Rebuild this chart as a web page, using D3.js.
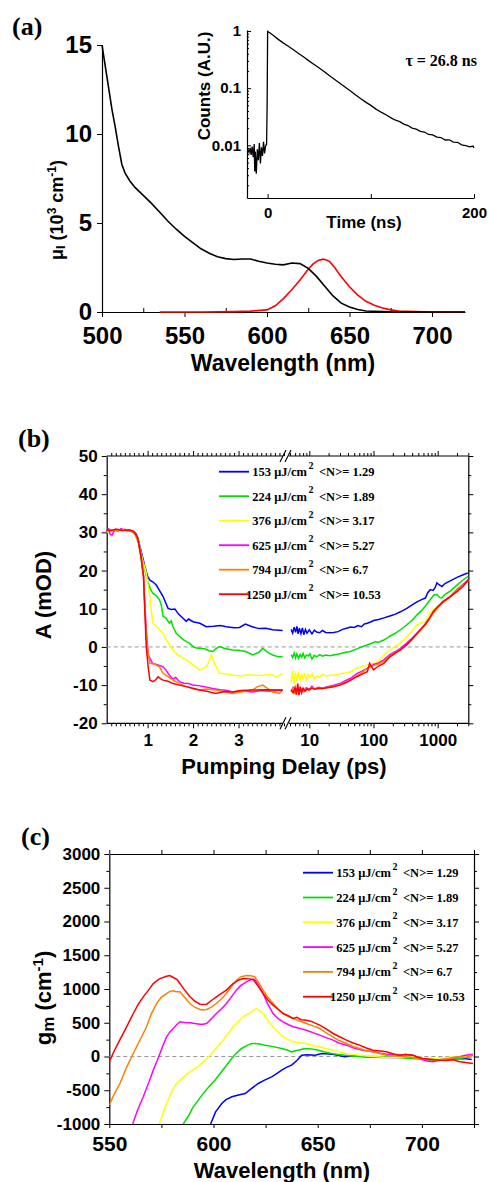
<!DOCTYPE html>
<html>
<head>
<meta charset="utf-8">
<style>
  body { margin: 0; background: #fff; }
  svg { display: block; }
</style>
</head>
<body>
<svg id="fig" width="489" height="1182"></svg>
<script src="https://cdnjs.cloudflare.com/ajax/libs/d3/7.8.5/d3.min.js"></script>
<script>
// ---------- panel (a): absorption + emission ----------
const absorption = [[500,15.0],[502,13.8],[504,12.6],[506,11.4],[508,10.4],[510,9.3],[512,8.3],[514,7.8],[517,7.35],[520,7.0],[525,6.55],[530,6.1],[535,5.6],[540,5.1],[545,4.65],[550,4.25],[555,3.9],[560,3.55],[565,3.3],[570,3.1],[575,3.0],[580,2.95],[585,2.98],[590,2.98],[595,2.85],[600,2.75],[605,2.68],[610,2.65],[615,2.75],[620,2.72],[625,2.45],[630,2.0],[635,1.45],[640,0.9],[645,0.5],[650,0.28],[655,0.14],[660,0.06],[670,0.02],[680,0.0],[700,0.0],[720,0.0]];
const emission = [[535,0],[560,0],[580,0.02],[590,0.05],[600,0.12],[605,0.35],[610,0.75],[615,1.25],[620,1.8],[625,2.4],[628,2.7],[631,2.9],[634,2.97],[636,2.92],[638,2.83],[641,2.5],[644,2.1],[647,1.75],[650,1.42],[655,0.95],[660,0.6],[665,0.38],[670,0.22],[675,0.12],[680,0.06],[690,0.02],[700,0.0],[720,0.0]];
const aXTicks = [500, 550, 600, 650, 700];
const aYTicks = [0, 5, 10, 15];

// inset: PL decay
const decay = [[-19,0.0085],[-18,0.0075],[-17,0.009],[-16,0.0068],[-15,0.0095],[-14,0.0062],[-13,0.0105],[-12.5,0.0035],[-12,0.0078],[-11,0.0032],[-10,0.0085],[-9,0.0055],[-8,0.011],[-7,0.0048],[-6,0.0092],[-5,0.0065],[-4,0.0115],[-3,0.0072],[-2,0.0098],[-1,0.0105],[-0.5,0.05],[0,0.98],[2,0.93],[5,0.85],[10,0.72],[15,0.62],[20,0.54],[25,0.47],[30,0.405],[35,0.35],[40,0.30],[45,0.26],[50,0.225],[55,0.193],[60,0.165],[65,0.142],[70,0.122],[75,0.105],[80,0.09],[85,0.077],[90,0.066],[95,0.057],[100,0.05],[105,0.043],[110,0.038],[115,0.034],[120,0.03],[124,0.0275],[128,0.026],[132,0.0235],[136,0.0222],[140,0.02],[144,0.0192],[148,0.0176],[152,0.0171],[156,0.0155],[160,0.0152],[164,0.0139],[168,0.0137],[172,0.0124],[176,0.0125],[180,0.0114],[184,0.0113],[188,0.0102],[192,0.0099],[196,0.0094],[199,0.0097],[200,0.009]];
const insetYTicks = [1, 0.1, 0.01];
const insetXTicks = [0, 100, 200];

// ---------- shared legend ----------
const fluences = ["153", "224", "376", "625", "794", "1250"];
const nValues = ["1.29", "1.89", "3.17", "5.27", "6.7", "10.53"];
const colors = ["#0000ff", "#00e000", "#ffff00", "#ff00ff", "#ff8000", "#ff0000"];

// ---------- panel (b): kinetics, A (mOD) vs delay ----------
const bBlue = [[0.1,30.2],[0.15,30.8],[0.25,30.5],[0.35,30.6],[0.5,30.4],[0.6,30.5],[0.68,30.3],[0.75,29.5],[0.8,27.8],[0.87,24.5],[0.94,21.0],[1.0,18.5],[1.05,17.5],[1.12,17.0],[1.19,16.2],[1.26,14.8],[1.34,13.2],[1.4,11.5],[1.45,10.1],[1.52,9.8],[1.6,9.9],[1.68,8.6],[1.78,7.5],[1.85,6.7],[1.9,7.3],[2.0,6.6],[2.15,6.2],[2.29,5.3],[2.45,5.4],[2.6,5.6],[2.73,5.3],[2.9,5.0],[3.02,5.1],[3.15,6.0],[3.3,5.3],[3.45,4.8],[3.6,4.9],[3.75,4.5],[3.97,4.3],
  [5.2,4.6],[5.5,3.6],[5.8,5.2],[6.1,3.8],[6.4,5.4],[6.7,3.4],[7.0,4.9],[7.4,3.5],[7.8,5.0],[8.2,3.2],[8.7,4.6],[9.2,3.6],[10,4.5],[11,3.4],[12,4.4],[13,3.9],[14.5,3.7],[16,4.3],[18,3.8],[21,3.7],[24,3.8],[28,4.0],[33,4.6],[38,4.9],[44,5.2],[50,5.1],[57,5.6],[65,5.3],[72,6.0],[80,6.2],[92,6.6],[100,6.9],[120,7.2],[145,7.6],[180,8.1],[220,8.6],[263,9.2],[330,10.1],[400,11.0],[477,11.8],[560,12.4],[643,12.8],[700,14.2],[768,15.0],[850,14.8],[910,15.5],[975,16.8],[1050,16.3],[1165,15.8],[1300,16.6],[1567,17.3],[2000,18.2],[2500,18.9],[3000,19.4]];
const bGreen = [[0.1,30.0],[0.2,30.6],[0.3,30.4],[0.45,30.7],[0.6,30.4],[0.7,30.0],[0.78,28.5],[0.85,25.0],[0.91,22.0],[0.96,19.0],[1.01,16.8],[1.06,15.2],[1.11,14.1],[1.18,13.5],[1.26,12.4],[1.3,11.0],[1.34,8.0],[1.4,7.6],[1.48,6.2],[1.52,6.8],[1.56,5.2],[1.63,3.6],[1.7,2.8],[1.78,2.0],[1.85,1.4],[1.92,1.0],[2.0,0.1],[2.07,-0.3],[2.14,-0.35],[2.25,-0.5],[2.35,-1.0],[2.43,-1.2],[2.5,-0.5],[2.58,0.1],[2.7,-0.4],[2.87,-0.8],[3.0,-0.9],[3.16,-1.2],[3.31,-2.1],[3.45,-1.4],[3.53,-0.35],[3.65,-1.5],[3.75,-2.1],[3.88,-2.6],[3.97,-2.5],
  [5.2,-2.0],[5.5,-2.8],[5.8,-1.6],[6.1,-2.9],[6.4,-1.8],[6.8,-3.0],[7.2,-2.0],[7.6,-2.7],[8.0,-1.7],[8.5,-2.9],[9.0,-2.1],[9.6,-2.4],[10.2,-1.8],[11,-3.2],[12,-2.2],[13,-2.6],[14.5,-2.0],[16,-2.4],[18,-2.1],[21,-2.3],[24,-2.1],[30,-1.8],[37,-1.4],[44,-1.2],[55,-0.5],[65,0.0],[80,0.5],[92,0.9],[108,1.4],[118,1.2],[145,1.8],[180,2.8],[220,3.6],[263,4.5],[330,5.8],[400,7.0],[477,8.4],[560,9.5],[650,10.8],[768,12.4],[870,13.6],[975,13.7],[1080,12.9],[1165,12.8],[1300,13.8],[1567,14.6],[2000,16.2],[2500,17.6],[3000,18.5]];
const bYellow = [[0.1,30.1],[0.2,30.5],[0.35,30.6],[0.5,30.3],[0.65,30.4],[0.72,29.8],[0.8,27.5],[0.88,23.0],[0.93,21.0],[0.97,19.4],[1.01,16.0],[1.05,13.2],[1.08,9.5],[1.12,6.2],[1.18,5.6],[1.26,4.5],[1.34,3.6],[1.41,1.8],[1.5,0.3],[1.56,-0.8],[1.63,-1.7],[1.72,-2.6],[1.85,-3.4],[1.92,-4.0],[2.0,-4.7],[2.07,-5.4],[2.14,-6.1],[2.22,-5.6],[2.29,-5.2],[2.35,-3.8],[2.4,-2.1],[2.48,-4.5],[2.58,-6.9],[2.7,-7.0],[2.87,-7.4],[3.05,-7.6],[3.2,-7.3],[3.31,-7.4],[3.5,-7.5],[3.7,-7.2],[3.85,-7.8],[3.97,-6.9],
  [5.2,-9.5],[5.5,-6.2],[5.8,-9.8],[6.1,-6.8],[6.4,-8.9],[6.8,-6.5],[7.2,-9.0],[7.6,-7.0],[8.0,-8.4],[8.5,-6.8],[9.0,-8.8],[9.6,-7.2],[10.2,-8.0],[11,-7.0],[12,-8.5],[13,-7.6],[14.5,-8.0],[16,-7.2],[18,-7.6],[21,-7.4],[24,-7.4],[30,-7.0],[37,-6.8],[44,-6.5],[55,-5.6],[65,-5.2],[80,-4.7],[92,-4.3],[108,-4.3],[125,-3.5],[145,-2.1],[180,-0.8],[220,0.2],[263,1.0],[330,2.6],[400,4.2],[477,5.8],[560,6.4],[643,6.7],[700,7.8],[768,9.0],[860,9.7],[1000,10.6],[1200,11.8],[1567,13.2],[2000,15.0],[2500,16.5],[3000,17.6]];
const bMagenta = [[0.1,30.2],[0.14,30.8],[0.18,29.4],[0.22,29.3],[0.27,30.6],[0.35,30.4],[0.42,31.0],[0.48,30.6],[0.55,30.5],[0.65,30.3],[0.72,29.8],[0.8,27.5],[0.86,23.5],[0.91,18.5],[0.94,11.0],[0.97,4.5],[1.01,-1.7],[1.05,-3.0],[1.11,-4.3],[1.2,-4.6],[1.34,-5.2],[1.4,-6.0],[1.48,-7.4],[1.55,-8.4],[1.62,-8.0],[1.7,-9.1],[1.8,-9.5],[1.9,-9.6],[2.0,-10.0],[2.15,-10.2],[2.25,-10.4],[2.43,-10.9],[2.6,-11.2],[2.75,-11.4],[2.87,-11.8],[3.05,-11.5],[3.2,-11.7],[3.31,-11.8],[3.5,-11.4],[3.7,-11.6],[3.97,-11.3],
  [5.2,-11.5],[5.6,-10.6],[6.0,-11.9],[6.5,-10.8],[7.0,-11.6],[7.5,-10.9],[8.2,-11.5],[9.0,-10.7],[10,-11.2],[11,-10.3],[12,-11.0],[14,-10.6],[16,-10.9],[19,-10.4],[24,-10.0],[30,-9.6],[37,-8.8],[44,-8.2],[55,-7.0],[65,-6.4],[80,-5.6],[100,-4.6],[120,-4.2],[145,-3.4],[180,-2.0],[220,-1.2],[263,-0.35],[330,1.0],[400,2.3],[477,3.6],[560,4.8],[650,6.2],[750,7.6],[860,9.3],[1000,10.4],[1200,11.8],[1567,13.2],[2000,15.0],[2500,16.4],[3000,17.6]];
const bOrange = [[0.1,30.4],[0.2,30.7],[0.35,30.5],[0.5,30.8],[0.62,30.5],[0.72,29.6],[0.8,27.2],[0.86,23.0],[0.91,18.5],[0.94,10.0],[0.97,2.7],[1.01,-1.5],[1.05,-4.3],[1.12,-4.4],[1.19,-4.7],[1.26,-5.2],[1.34,-6.9],[1.45,-7.8],[1.56,-8.7],[1.7,-9.6],[1.85,-10.4],[2.0,-10.8],[2.14,-11.3],[2.3,-11.0],[2.5,-11.3],[2.7,-11.8],[2.87,-12.2],[3.05,-11.8],[3.2,-11.5],[3.31,-11.3],[3.42,-10.4],[3.53,-10.0],[3.65,-11.0],[3.75,-11.8],[3.9,-12.2],[3.97,-11.3],
  [5.2,-11.8],[5.6,-10.9],[6.0,-12.2],[6.5,-11.2],[7.0,-12.0],[7.5,-11.0],[8.2,-11.7],[9.0,-11.0],[10,-11.4],[11,-10.6],[12,-11.0],[14,-10.8],[16,-10.9],[19,-10.6],[24,-10.3],[30,-9.9],[37,-9.2],[44,-8.6],[55,-7.6],[65,-6.8],[80,-5.6],[100,-4.9],[120,-4.5],[145,-3.8],[180,-2.4],[220,-1.5],[263,-0.8],[330,0.6],[400,2.0],[477,3.4],[560,4.6],[650,6.0],[750,7.4],[860,8.9],[1000,10.2],[1200,11.6],[1567,13.0],[2000,14.8],[2500,16.2],[3000,17.2]];
const bRed = [[0.1,30.6],[0.2,30.4],[0.3,30.9],[0.45,30.5],[0.6,30.7],[0.7,30.2],[0.78,28.6],[0.85,24.0],[0.91,18.5],[0.94,9.0],[0.97,0.1],[1.01,-5.0],[1.05,-8.7],[1.12,-9.1],[1.18,-8.6],[1.23,-7.8],[1.28,-8.3],[1.34,-8.7],[1.45,-9.0],[1.56,-9.6],[1.7,-10.0],[1.85,-10.4],[2.0,-10.9],[2.14,-11.3],[2.3,-11.6],[2.5,-12.2],[2.7,-11.7],[2.87,-11.8],[3.05,-11.4],[3.31,-11.3],[3.6,-11.2],[3.97,-11.3],
  [5.2,-11.3],[5.6,-12.0],[6.0,-10.6],[6.3,-12.5],[6.6,-9.6],[6.9,-12.6],[7.2,-10.4],[7.6,-12.0],[8.0,-10.8],[8.6,-11.6],[9.2,-11.0],[10,-11.2],[11,-10.8],[12,-11.1],[14,-10.8],[16,-10.9],[19,-10.7],[24,-10.4],[30,-10.0],[37,-9.4],[44,-8.7],[55,-7.8],[65,-7.2],[80,-6.5],[87,-4.3],[95,-5.4],[100,-6.0],[120,-5.0],[145,-4.3],[180,-2.6],[220,-1.6],[263,-0.8],[330,0.6],[400,2.0],[477,3.6],[560,4.8],[650,6.0],[750,7.6],[860,9.3],[1000,10.5],[1200,11.8],[1567,13.2],[2000,14.5],[2500,15.9],[3000,17.6]];
const bYTicks = [-20, -10, 0, 10, 20, 30, 40, 50];
const bXTicksLin = [1, 2, 3];
const bXTicksLog = [10, 100, 1000];

// ---------- panel (c): modal gain spectra ----------
const cBlue = [[598.6,-1000],[601,-820],[604,-696],[606,-640],[608.8,-597],[612,-570],[615.2,-548],[618,-480],[621.5,-400],[624.5,-350],[627.9,-301],[630.5,-250],[632.7,-202],[635,-160],[637.5,-128],[640,-60],[642.3,20],[645,25],[648.7,20],[652,45],[656.7,35],[660,15],[663.1,-5],[667,10],[672.7,-5],[678,-10],[685.5,-15],[690,-10],[695.1,-5],[700,-30],[704.7,-54],[710,-40],[717.5,-30],[721,-35],[723.9,-44]];
const cGreen = [[585.5,-1000],[588,-880],[590,-760],[592.7,-647],[595,-550],[597.5,-460],[600.7,-351],[603,-260],[606,-140],[608.7,-30],[611,50],[613.5,119],[616,160],[618,190],[619.9,193],[622,185],[624.7,168],[628,150],[632.7,119],[635,100],[637.5,69],[640,90],[643.9,119],[647,110],[650.3,94],[653,70],[656.7,44],[660,30],[663.1,20],[668,5],[672.7,-5],[677,0],[682.3,-5],[688,-15],[695.1,-30],[700,-40],[704.7,-54],[710,-45],[714,-35],[717.5,-30],[721,-15],[723.9,-5]];
const cYellow = [[574,-1000],[576,-820],[577.5,-696],[580,-520],[582.3,-400],[585,-320],[588.7,-227],[592,-160],[595.1,-79],[597.5,-10],[599.9,69],[602,150],[604.6,242],[607,340],[609.4,440],[612,520],[614.2,588],[617,640],[619,680],[620.6,711],[622,680],[623.8,637],[626,540],[628.6,440],[631,360],[633.4,291],[636,250],[638.2,217],[641,205],[644.6,193],[648,160],[651,143],[654,120],[657.4,94],[660,70],[663.8,44],[667,30],[670.1,20],[675,5],[682.9,-15],[688,-10],[695.7,-5],[700,-20],[705.3,-30],[710,-20],[714,-10],[718,-5],[721,5],[724.5,20]];
const cMagenta = [[561.2,-1000],[563.5,-800],[566.3,-597],[569,-380],[571.1,-202],[573,-60],[574.3,44],[576,180],[577.5,291],[579,360],[580.7,415],[582,460],[583.9,514],[586,505],[588.7,499],[591,490],[593.5,479],[595,478],[596.7,489],[599,560],[601.4,637],[604,710],[606.2,785],[608.5,880],[611,983],[613,1050],[615.8,1106],[618,1140],[619.8,1141],[621.5,1060],[623.8,933],[626,780],[628.6,637],[631,560],[633.4,514],[636,470],[638.2,440],[641,420],[644.6,390],[648,350],[651,316],[654,280],[657.4,242],[660,200],[663.8,168],[667,130],[670.1,104],[673,85],[676.5,69],[680,50],[682.9,35],[686,25],[689.3,20],[692,30],[695.7,20],[698,-10],[700.5,-54],[703,-70],[705.3,-79],[708,-60],[711.7,-44],[715,-20],[718,-5],[721,20],[724.5,35]];
const cOrange = [[550,-721],[552,-580],[555.1,-400],[558,-180],[561.5,44],[564,200],[567.9,440],[570,620],[572.7,785],[575,880],[577.5,933],[579,965],[580.7,973],[582,960],[583.9,958],[586,880],[588.7,785],[591,730],[593.5,696],[595,690],[596.7,696],[599,730],[601.4,785],[604,860],[606.2,933],[608.5,1030],[611,1131],[613,1180],[615.8,1200],[618,1195],[619.8,1180],[622,1080],[623.8,983],[626,880],[628.6,785],[631,700],[633.4,637],[636,590],[638.2,563],[641,530],[644.6,489],[648,450],[651,415],[654,350],[657.4,291],[660,240],[663.8,193],[667,150],[670.1,119],[673,90],[676.5,69],[680,40],[682.9,20],[686,10],[689.3,5],[694,-10],[698.9,-30],[703,-40],[708.5,-54],[713,-30],[718,-5],[721,-10],[724.5,20]];
const cRed = [[550,-79],[552,60],[555,242],[558,420],[561.5,637],[564,780],[566.3,884],[569,990],[571.1,1081],[574,1150],[577.5,1190],[579,1200],[580.7,1170],[582.5,1140],[583.9,1081],[586,990],[588.7,884],[591,820],[593.5,775],[595,770],[596.7,775],[599,830],[601.4,884],[604,940],[606.2,983],[608,1040],[609.4,1081],[612,1130],[614.2,1156],[617,1150],[619,1140],[621,1060],[623.8,933],[626,840],[628.6,760],[631,700],[633.4,637],[636,600],[638.2,563],[640,580],[642,545],[644.6,538],[647,520],[649,490],[651,464],[654,410],[657.4,341],[660,300],[663.8,242],[667,200],[670.1,168],[673,130],[676.5,94],[680,80],[682.9,69],[686,40],[689.3,20],[692,30],[695.7,20],[698,-10],[700.5,-30],[704,-40],[708.5,-54],[712,-60],[715,-50],[718.1,-79],[721,-90],[724.5,-104]];
const cXTicks = [550, 600, 650, 700];
const cYTicks = [-1000, -500, 0, 500, 1000, 1500, 2000, 2500, 3000];

// ---------- drawing ----------
const SANS = '"Liberation Sans", Arial, sans-serif';
const SERIF = '"Liberation Serif", "Times New Roman", serif';
const svg = d3.select("#fig");
svg.append("rect").attr("width", 489).attr("height", 1182).attr("fill", "#fff");

// tidy up a d3 axis group
function styleAxis(g, fontSize, keepDomain) {
  g.attr("font-family", SANS).attr("font-size", fontSize).attr("font-weight", "bold");
  if (keepDomain) g.select(".domain").attr("stroke", "#000").attr("stroke-width", 1.2);
  else g.select(".domain").remove();
  g.selectAll(".tick line").attr("stroke", "#000").attr("stroke-width", 1);
  g.selectAll(".tick text").attr("fill", "#000");
  return g;
}
function hline(x1, x2, y) {
  svg.append("line").attr("x1", x1).attr("x2", x2).attr("y1", y).attr("y2", y)
    .attr("stroke", "#000").attr("stroke-width", 1.2);
}
function vline(x, y1, y2) {
  svg.append("line").attr("x1", x).attr("x2", x).attr("y1", y1).attr("y2", y2)
    .attr("stroke", "#000").attr("stroke-width", 1.2);
}
function panelLabel(txt, x, y) {
  svg.append("text").attr("x", x).attr("y", y).attr("font-family", SERIF)
    .attr("font-weight", "bold").attr("font-size", 26).text(txt);
}
function zeroLine(x1, x2, y) {
  svg.append("line").attr("x1", x1).attr("x2", x2).attr("y1", y).attr("y2", y)
    .attr("stroke", "#999").attr("stroke-width", 1).attr("stroke-dasharray", "4,3");
}
function drawLegend(x0, y0, step) {
  fluences.forEach((f, i) => {
    const y = y0 + i * step;
    svg.append("line").attr("x1", x0).attr("x2", x0 + 30).attr("y1", y).attr("y2", y)
      .attr("stroke", colors[i]).attr("stroke-width", 1.8);
    const t = svg.append("g").attr("font-family", SERIF).attr("font-weight", "bold").attr("fill", "#000");
    t.append("text").attr("x", x0 + 88).attr("y", y + 4.5).attr("text-anchor", "end")
      .attr("font-size", 12.5).text(f + " \u03bcJ/cm");
    t.append("text").attr("x", x0 + 89.5).attr("y", y - 3).attr("font-size", 10).text("2");
    t.append("text").attr("x", x0 + 100).attr("y", y + 4.5).attr("font-size", 12.5)
      .text("<N>= " + nValues[i]);
  });
}

// ===== panel (a) =====
panelLabel("(a)", 12, 35);
const ax = d3.scaleLinear().domain([500, 720]).range([102, 465]);
const ay = d3.scaleLinear().domain([0, 15]).range([312, 45]);

styleAxis(svg.append("g").attr("transform", "translate(0,312)")
  .call(d3.axisBottom(ax).tickValues(aXTicks).tickSize(5).tickPadding(10).tickSizeOuter(0)), 24, true);
styleAxis(svg.append("g").attr("transform", "translate(0,312)")
  .call(d3.axisBottom(ax).tickValues([525, 575, 625, 675]).tickSize(-4).tickFormat("")), 24, false);
styleAxis(svg.append("g").attr("transform", "translate(102,0)")
  .call(d3.axisLeft(ay).tickValues(aYTicks).tickSize(5).tickPadding(5).tickSizeOuter(0)), 24, true);

const aLine = d3.line().x(d => ax(d[0])).y(d => ay(d[1]));
svg.append("path").datum(emission).attr("d", aLine).attr("fill", "none")
  .attr("stroke", "#ff0000").attr("stroke-width", 1.6);
svg.append("path").datum(absorption).attr("d", aLine).attr("fill", "none")
  .attr("stroke", "#000").attr("stroke-width", 1.6);

svg.append("text").attr("x", 283).attr("y", 371).attr("text-anchor", "middle")
  .attr("font-family", SANS).attr("font-weight", "bold").attr("font-size", 23).text("Wavelength (nm)");
const aYT = svg.append("text").attr("transform", "translate(63,210) rotate(-90)")
  .attr("text-anchor", "middle").attr("font-family", SANS).attr("font-weight", "bold").attr("font-size", 18);
aYT.append("tspan").text("\u03bc");
aYT.append("tspan").attr("font-size", 13).attr("dy", 2).text("I");
aYT.append("tspan").attr("dy", -2).text(" (10");
aYT.append("tspan").attr("font-size", 12).attr("dy", -7).text("3");
aYT.append("tspan").attr("dy", 7).text(" cm");
aYT.append("tspan").attr("font-size", 12).attr("dy", -7).text("-1");
aYT.append("tspan").attr("dy", 7).text(")");

// inset
const ix = d3.scaleLinear().domain([-20, 200]).range([247, 474]);
const iy = d3.scaleLog().domain([0.0012, 1.04]).range([198, 30]);
const insetMinor = [];
[0.001, 0.01, 0.1].forEach(dec => { for (let k = 2; k <= 9; k++) if (dec * k >= 0.0012) insetMinor.push(dec * k); });

styleAxis(svg.append("g").attr("transform", "translate(0,198)")
  .call(d3.axisBottom(ix).tickValues(insetXTicks).tickSize(-4).tickPadding(9).tickSizeOuter(0)
    .tickFormat(d => d === 100 ? "" : d)), 15, true);
styleAxis(svg.append("g").attr("transform", "translate(247,0)")
  .call(d3.axisLeft(iy).tickValues(insetYTicks).tickSize(-4).tickPadding(6).tickSizeOuter(0)
    .tickFormat(d => d === 1 ? "1" : d === 0.1 ? "0.1" : "0.01")), 15, true);
styleAxis(svg.append("g").attr("transform", "translate(247,0)")
  .call(d3.axisLeft(iy).tickValues(insetMinor).tickSize(-2).tickFormat("")), 15, false);

svg.append("path").datum(decay)
  .attr("d", d3.line().x(d => ix(d[0])).y(d => iy(d[1])))
  .attr("fill", "none").attr("stroke", "#000").attr("stroke-width", 1.3);

svg.append("text").attr("x", 364).attr("y", 228).attr("text-anchor", "middle")
  .attr("font-family", SANS).attr("font-weight", "bold").attr("font-size", 17).text("Time (ns)");
svg.append("text").attr("transform", "translate(210,86) rotate(-90)").attr("text-anchor", "middle")
  .attr("font-family", SANS).attr("font-weight", "bold").attr("font-size", 17).text("Counts (A.U.)");
svg.append("text").attr("x", 477).attr("y", 66).attr("text-anchor", "end")
  .attr("font-family", SERIF).attr("font-weight", "bold").attr("font-size", 16).text("\u03c4 = 26.8 ns");

// ===== panel (b) =====
panelLabel("(b)", 18, 447);
const bL = 106.7, bR = 468.3, bT = 456, bB = 723.3;
const bxL = d3.scaleLinear().domain([0.1, 4.0]).range([bL, 284]);
const bxR = d3.scaleLog().domain([5, 3000]).range([290, bR]);
const by = d3.scaleLinear().domain([-20, 50]).range([bB, bT]);

const linMinor = d3.range(2, 41).map(k => k / 10).filter(v => bXTicksLin.indexOf(v) < 0);
const logMinor = [];
[1, 10, 100, 1000].forEach(dec => { for (let k = 2; k <= 9; k++) { const v = dec * k; if (v >= 5 && v <= 3000) logMinor.push(v); } });

[[bB, d3.axisBottom], [bT, d3.axisTop]].forEach(([yy, mk], j) => {
  const lab = j === 0;
  styleAxis(svg.append("g").attr("transform", `translate(0,${yy})`)
    .call(mk(bxL).tickValues(bXTicksLin).tickSize(5).tickPadding(6).tickFormat(lab ? d => d : "")), 17, false);
  styleAxis(svg.append("g").attr("transform", `translate(0,${yy})`)
    .call(mk(bxL).tickValues(linMinor).tickSize(3).tickFormat("")), 17, false);
  styleAxis(svg.append("g").attr("transform", `translate(0,${yy})`)
    .call(mk(bxR).tickValues(bXTicksLog).tickSize(5).tickPadding(6).tickFormat(lab ? d => d : "")), 17, false);
  styleAxis(svg.append("g").attr("transform", `translate(0,${yy})`)
    .call(mk(bxR).tickValues(logMinor).tickSize(3).tickFormat("")), 17, false);
  hline(bL, 283, yy);
  hline(289, bR, yy);
  // axis break marks
  [283, 288].forEach(xx => {
    svg.append("line").attr("x1", xx - 3).attr("x2", xx + 3).attr("y1", yy + 6).attr("y2", yy - 6)
      .attr("stroke", "#000").attr("stroke-width", 1.1);
  });
});

const bYMinor = d3.range(-15, 50, 10);
styleAxis(svg.append("g").attr("transform", `translate(${bL},0)`)
  .call(d3.axisLeft(by).tickValues(bYTicks).tickSize(5).tickPadding(4).tickSizeOuter(0).tickFormat(d => String(d))), 17, true);
styleAxis(svg.append("g").attr("transform", `translate(${bL},0)`)
  .call(d3.axisLeft(by).tickValues(bYMinor).tickSize(3).tickFormat("")), 17, false);
styleAxis(svg.append("g").attr("transform", `translate(${bR},0)`)
  .call(d3.axisRight(by).tickValues(bYTicks).tickSize(5).tickSizeOuter(0).tickFormat("")), 17, true);
styleAxis(svg.append("g").attr("transform", `translate(${bR},0)`)
  .call(d3.axisRight(by).tickValues(bYMinor).tickSize(3).tickFormat("")), 17, false);

zeroLine(bL, bR, by(0));

const bSeries = [bBlue, bGreen, bYellow, bMagenta, bOrange, bRed];
const lineL = d3.line().x(d => bxL(d[0])).y(d => by(d[1]));
const lineR = d3.line().x(d => bxR(d[0])).y(d => by(d[1]));
bSeries.forEach((s, i) => {
  svg.append("path").datum(s.filter(d => d[0] <= 4.5)).attr("d", lineL)
    .attr("fill", "none").attr("stroke", colors[i]).attr("stroke-width", 1.5);
  svg.append("path").datum(s.filter(d => d[0] > 4.5)).attr("d", lineR)
    .attr("fill", "none").attr("stroke", colors[i]).attr("stroke-width", 1.5);
});

drawLegend(219, 471.7, 24.5);

svg.append("text").attr("transform", "translate(51,595) rotate(-90)").attr("text-anchor", "middle")
  .attr("font-family", SANS).attr("font-weight", "bold").attr("font-size", 22).text("A (mOD)");
svg.append("text").attr("x", 284).attr("y", 774).attr("text-anchor", "middle")
  .attr("font-family", SANS).attr("font-weight", "bold").attr("font-size", 22).text("Pumping Delay (ps)");

// ===== panel (c) =====
panelLabel("(c)", 21, 845);
const cL = 109.3, cR = 474, cT = 854, cB = 1124;
const cx = d3.scaleLinear().domain([550, 725]).range([cL, cR]);
const cy = d3.scaleLinear().domain([-1000, 3000]).range([cB, cT]);

const cXAll = d3.range(550, 726, 25);
styleAxis(svg.append("g").attr("transform", `translate(0,${cB})`)
  .call(d3.axisBottom(cx).tickValues(cXTicks).tickSize(4).tickPadding(8).tickSizeOuter(0)), 21, true);
styleAxis(svg.append("g").attr("transform", `translate(0,${cB})`)
  .call(d3.axisBottom(cx).tickValues(cXAll.filter(v => cXTicks.indexOf(v) < 0)).tickSize(4).tickFormat("")), 21, false);
styleAxis(svg.append("g").attr("transform", `translate(0,${cT})`)
  .call(d3.axisTop(cx).tickValues(cXAll).tickSize(4).tickSizeOuter(0).tickFormat("")), 21, true);

const cYMinor = d3.range(-750, 3000, 500);
styleAxis(svg.append("g").attr("transform", `translate(${cL},0)`)
  .call(d3.axisLeft(cy).tickValues(cYTicks).tickSize(5).tickPadding(4).tickSizeOuter(0).tickFormat(d => String(d))), 17, true);
styleAxis(svg.append("g").attr("transform", `translate(${cL},0)`)
  .call(d3.axisLeft(cy).tickValues(cYMinor).tickSize(3).tickFormat("")), 17, false);
styleAxis(svg.append("g").attr("transform", `translate(${cR},0)`)
  .call(d3.axisRight(cy).tickValues(cYTicks).tickSize(5).tickSizeOuter(0).tickFormat("")), 17, true);
styleAxis(svg.append("g").attr("transform", `translate(${cR},0)`)
  .call(d3.axisRight(cy).tickValues(cYMinor).tickSize(3).tickFormat("")), 17, false);

zeroLine(cL, cR, cy(0));

svg.append("clipPath").attr("id", "clipC").append("rect")
  .attr("x", cL).attr("y", cT).attr("width", cR - cL).attr("height", cB - cT);
const cLine = d3.line().x(d => cx(d[0])).y(d => cy(d[1]));
[cBlue, cGreen, cYellow, cMagenta, cOrange, cRed].forEach((s, i) => {
  svg.append("path").datum(s).attr("d", cLine).attr("clip-path", "url(#clipC)")
    .attr("fill", "none").attr("stroke", colors[i]).attr("stroke-width", 1.5);
});

drawLegend(303, 872.7, 24.8);

svg.append("text").attr("x", 282).attr("y", 1178).attr("text-anchor", "middle")
  .attr("font-family", SANS).attr("font-weight", "bold").attr("font-size", 22).text("Wavelength (nm)");
const cYT = svg.append("text").attr("transform", "translate(51,998) rotate(-90)")
  .attr("text-anchor", "middle").attr("font-family", SANS).attr("font-weight", "bold").attr("font-size", 22);
cYT.append("tspan").text("g");
cYT.append("tspan").attr("font-size", 17).attr("dy", 3).text("m");
cYT.append("tspan").attr("dy", -3).text(" (cm");
cYT.append("tspan").attr("font-size", 15).attr("dy", -8).text("-1");
cYT.append("tspan").attr("dy", 8).text(")");
</script>
</body>
</html>
